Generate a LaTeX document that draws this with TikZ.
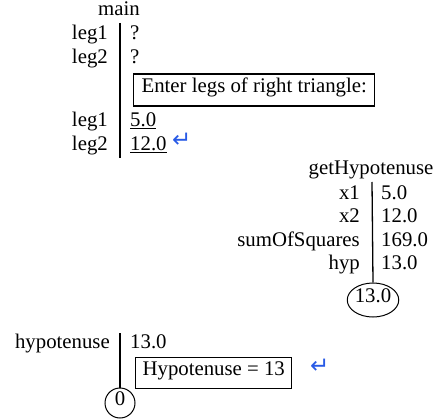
\documentclass[tikz,border=0pt]{standalone}
\usepackage{fontspec}
\setmainfont{Liberation Serif}
\newfontfamily\symfont{DejaVu Sans}
\usetikzlibrary{shapes.geometric}
\definecolor{retblue}{RGB}{40,90,230}
\begin{document}
\begin{tikzpicture}[x=1pt,y=-1pt,
  every node/.style={font=\fontsize{20.8}{24}\selectfont, inner sep=0pt, text height=0.7em, text depth=0.22em},
  lbl/.style={anchor=east},
  val/.style={anchor=west},
  msg/.style={draw, line width=1.2pt, anchor=west, inner xsep=8pt, minimum height=32pt},
  ret/.style={draw, ellipse, line width=1pt, minimum width=46pt, minimum height=34pt},
  frameline/.style={line width=1.3pt},
  enterkey/.style={text=retblue, font=\symfont\fontsize{23}{26}\selectfont}
]
\useasboundingbox (0,0) rectangle (438,419);

% ---- main ----
\node (main) at (119,13) {main};
\coordinate (mainTop) at (120,23);
\coordinate (mainBot) at (120,158);
\draw[frameline] (mainTop) -- (mainBot);
\node[lbl] (l1a) at (108,37) {leg1};
\node[val] (v1a) at (130,37) {?};
\node[lbl] (l2a) at (108,61) {leg2};
\node[val] (v2a) at (130,61) {?};
\node[msg] (enter) at (133,90) {Enter legs of right triangle:};
\node[lbl] (l1b) at (108,124) {leg1};
\node[val] (v1b) at (130,124) {\underline{5.0}};
\node[lbl] (l2b) at (108,148) {leg2};
\node[val] (v2b) at (130,148) {\underline{12.0}};
\node[enterkey, anchor=west] (ek1) at (172,145) {↵};

% ---- getHypotenuse ----
\node (gh) at (371,172) {getHypotenuse};
\coordinate (ghTop) at (372,182);
\node[lbl] (x1) at (360,197) {x1};
\node[val] (vx1) at (381,197) {5.0};
\node[lbl] (x2) at (360,220) {x2};
\node[val] (vx2) at (381,220) {12.0};
\node[lbl] (sq) at (360,244) {sumOfSquares};
\node[val] (vsq) at (381,244) {169.0};
\node[lbl] (hyp) at (360,267) {hyp};
\node[val] (vhyp) at (381,267) {13.0};
\node[ret] (r1) at (373,300) {13.0};
\draw[frameline] (ghTop) -- (r1.north);

% ---- bottom ----
\node[lbl] (hy) at (110,346) {hypotenuse};
\node[val] (vhy) at (130,346) {13.0};
\coordinate (hyTop) at (120,333);
\node[msg, inner xsep=7pt, minimum height=31pt] (out) at (135,373) {Hypotenuse = 13};
\node[ret, circle, minimum size=30pt] (r2) at (120,403) {0};
\draw[frameline] (hyTop) -- (r2.north);
\node[enterkey, anchor=west] (ek2) at (310,371) {↵};
\end{tikzpicture}
\end{document}
